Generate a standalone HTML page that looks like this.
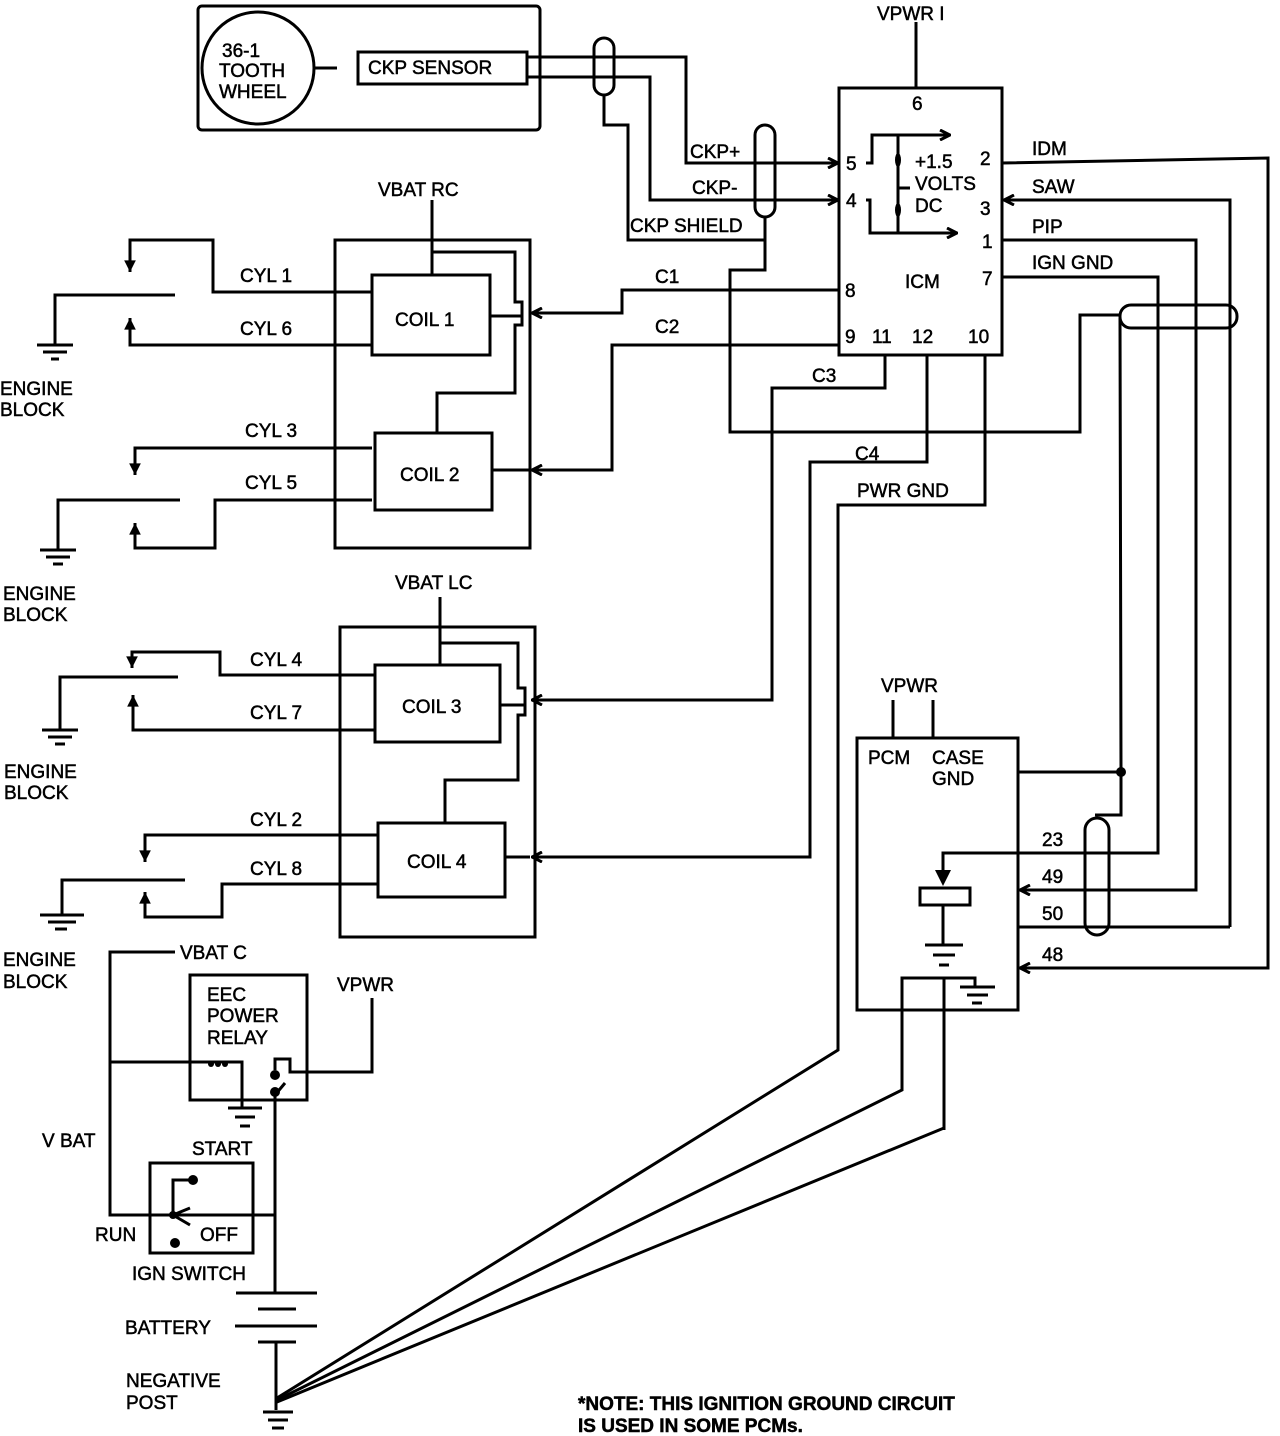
<!DOCTYPE html>
<html><head><meta charset="utf-8"><style>
html,body{margin:0;padding:0;background:#fff;}
svg{display:block;}
text{font-family:"Liberation Sans",sans-serif;font-size:19px;fill:#000;stroke:#000;stroke-width:0.5px;}
</style></head><body>
<svg width="1280" height="1436" viewBox="0 0 1280 1436" xmlns="http://www.w3.org/2000/svg">
<defs>
<marker id="ar" viewBox="0 0 12 12" refX="11" refY="6" markerWidth="12" markerHeight="12" markerUnits="userSpaceOnUse" orient="auto">
<path d="M1,1 L11,6 L1,11" fill="none" stroke="#000" stroke-width="3"/>
</marker>
<marker id="at" viewBox="0 0 12 12" refX="11" refY="6" markerWidth="14" markerHeight="14" markerUnits="userSpaceOnUse" orient="auto">
<path d="M1,1 L11,6 L1,11 Z" fill="#000"/>
</marker>
</defs>
<g fill="none" stroke="#000" stroke-width="3" stroke-linejoin="miter">
<rect x="198" y="6" width="342" height="124" rx="4"/>
<circle cx="258" cy="68" r="56"/>
<line x1="314" y1="68" x2="337" y2="68"/>
<rect x="358" y="52" width="169" height="32"/>
<polyline points="527,57 686,57 686,163 838,163" marker-end="url(#ar)"/>
<polyline points="527,77 650,77 650,200 838,200" marker-end="url(#ar)"/>
<rect x="594" y="38" width="20" height="57" rx="10"/>
<polyline points="604,95 604,125 628,125 628,240 765,240"/>
<rect x="755" y="125" width="20" height="92" rx="10"/>
<polyline points="765,217 765,270 730,270 730,432 1080,432 1080,315 1120,315"/>
<rect x="1120" y="305" width="117" height="23" rx="11"/>
<rect x="839" y="88" width="163" height="267"/>
<line x1="916" y1="22" x2="916" y2="88"/>
<polyline points="866,163 872,163 872,135 950,135" marker-end="url(#ar)"/>
<polyline points="866,200 870,200 870,233 957,233" marker-end="url(#ar)"/>
<line x1="898" y1="135" x2="898" y2="233"/>
<line x1="898" y1="188" x2="910" y2="188"/>
<polyline points="1002,163 1268,158 1268,968 1020,968" marker-end="url(#ar)"/>
<polyline points="1230,927 1230,200 1004,200" marker-end="url(#ar)"/>
<polyline points="1002,240 1196,240 1196,890 1020,890" marker-end="url(#ar)"/>
<polyline points="1002,277 1158,277 1158,853 943,853 943,870"/>
<line x1="1018" y1="927" x2="1230" y2="927"/>
<polyline points="1120,318 1121,772 1121,815 1095,815"/>
<line x1="1018" y1="772" x2="1121" y2="772"/>
<rect x="1085" y="818" width="24" height="117" rx="12"/>
<polyline points="838,290 622,290 622,313 532,313" marker-end="url(#ar)"/>
<polyline points="838,345 612,345 612,470 532,470" marker-end="url(#ar)"/>
<polyline points="885,355 885,388 772,388 772,700 532,700" marker-end="url(#ar)"/>
<polyline points="927,355 927,462 810,462 810,857 532,857" marker-end="url(#ar)"/>
<polyline points="985,355 985,505 838,505 838,1050 277,1398"/>
<rect x="857" y="738" width="161" height="272"/>
<line x1="893" y1="700" x2="893" y2="738"/>
<line x1="933" y1="700" x2="933" y2="738"/>
<rect x="920" y="888" width="50" height="17"/>
<line x1="943" y1="905" x2="943" y2="945"/>
<line x1="925" y1="945" x2="963" y2="945"/>
<line x1="933" y1="955" x2="955" y2="955"/>
<line x1="939" y1="965" x2="949" y2="965"/>
<polyline points="902,1030 902,978 975,978 975,987"/>
<line x1="960" y1="987" x2="995" y2="987"/>
<line x1="967" y1="995" x2="988" y2="995"/>
<line x1="972" y1="1003" x2="982" y2="1003"/>
<line x1="944" y1="978" x2="944" y2="1130"/>
<polyline points="902,1010 902,1090 277,1400"/>
<polyline points="944,1128 277,1402"/>
<rect x="335" y="240" width="195" height="308"/>
<line x1="432" y1="200" x2="432" y2="275"/>
<polyline points="432,252 515,252 515,302 522,302 522,325 515,325 515,393 437,393 437,433"/>
<rect x="372" y="275" width="118" height="80"/>
<rect x="375" y="433" width="117" height="77"/>
<line x1="490" y1="316" x2="522" y2="316"/>
<line x1="492" y1="470" x2="530" y2="470"/>
<polyline points="372,292 213,292 213,240 130,240 130,272" marker-end="url(#at)"/>
<polyline points="372,345 130,345 130,318" marker-end="url(#at)"/>
<polyline points="175,295 55,295 55,345"/>
<line x1="37" y1="345" x2="73" y2="345"/><line x1="43" y1="352" x2="67" y2="352"/><line x1="51" y1="359" x2="59" y2="359"/>
<polyline points="372,448 135,448 135,475" marker-end="url(#at)"/>
<polyline points="372,500 215,500 215,548 135,548 135,523" marker-end="url(#at)"/>
<polyline points="180,500 58,500 58,550"/>
<line x1="40" y1="550" x2="76" y2="550"/><line x1="46" y1="557" x2="70" y2="557"/><line x1="53" y1="564" x2="63" y2="564"/>
<rect x="340" y="627" width="195" height="310"/>
<line x1="440" y1="597" x2="440" y2="665"/>
<polyline points="440,643 518,643 518,688 525,688 525,715 518,715 518,780 445,780 445,823"/>
<rect x="375" y="665" width="125" height="77"/>
<rect x="378" y="823" width="127" height="74"/>
<line x1="500" y1="705" x2="525" y2="705"/>
<line x1="505" y1="857" x2="530" y2="857"/>
<polyline points="375,675 220,675 220,652 132,652 132,668" marker-end="url(#at)"/>
<polyline points="375,730 133,730 133,695" marker-end="url(#at)"/>
<polyline points="178,677 60,677 60,730"/>
<line x1="42" y1="730" x2="78" y2="730"/><line x1="48" y1="737" x2="72" y2="737"/><line x1="55" y1="744" x2="65" y2="744"/>
<polyline points="378,835 145,835 145,862" marker-end="url(#at)"/>
<polyline points="378,884 222,884 222,917 145,917 145,892" marker-end="url(#at)"/>
<polyline points="185,880 62,880 62,915"/>
<line x1="40" y1="915" x2="84" y2="915"/><line x1="48" y1="922" x2="76" y2="922"/><line x1="55" y1="929" x2="67" y2="929"/>
<polyline points="175,952 110,952 110,1215 275,1215"/>
<rect x="190" y="975" width="117" height="125"/>
<polyline points="110,1062 242,1062 242,1108"/>
<line x1="228" y1="1108" x2="262" y2="1108"/><line x1="235" y1="1117" x2="255" y2="1117"/><line x1="240" y1="1126" x2="250" y2="1126"/>
<polyline points="275,1070 275,1059 290,1059 290,1072 372,1072 372,998"/>
<line x1="275" y1="1095" x2="285" y2="1083"/>
<line x1="275" y1="1095" x2="275" y2="1292"/>
<rect x="150" y="1163" width="103" height="90"/>
<polyline points="193,1180 173,1180 173,1215 190,1225"/>
<line x1="173" y1="1215" x2="190" y2="1208"/>
<line x1="236" y1="1293" x2="317" y2="1293"/>
<line x1="258" y1="1309" x2="296" y2="1309"/>
<line x1="235" y1="1326" x2="317" y2="1326"/>
<line x1="258" y1="1342" x2="296" y2="1342"/>
<line x1="276" y1="1342" x2="276" y2="1410"/>
<line x1="263" y1="1412" x2="293" y2="1412"/><line x1="268" y1="1420" x2="288" y2="1420"/><line x1="272" y1="1428" x2="284" y2="1428"/>
</g>
<g fill="#000">
<path d="M935,870 L951,870 L943,886 Z"/>
<circle cx="1121" cy="772" r="5"/>
<circle cx="275" cy="1075" r="5"/><circle cx="275" cy="1092" r="5"/>
<circle cx="193" cy="1180" r="5"/><circle cx="175" cy="1243" r="5"/><circle cx="173" cy="1215" r="4"/>
<circle cx="211" cy="1064" r="3"/><circle cx="218" cy="1064" r="3"/><circle cx="225" cy="1064" r="3"/>
<ellipse cx="898" cy="160" rx="3" ry="7"/><ellipse cx="898" cy="210" rx="3" ry="7"/>
</g>
<g>
<text x="222" y="57" font-size="16">36-1</text>
<text x="219" y="77" font-size="19">TOOTH</text>
<text x="219" y="98" font-size="19">WHEEL</text>
<text x="368" y="74">CKP SENSOR</text>
<text x="877" y="20">VPWR I</text>
<text x="912" y="110">6</text>
<text x="690" y="158">CKP+</text>
<text x="692" y="194">CKP-</text>
<text x="630" y="232">CKP SHIELD</text>
<text x="846" y="170">5</text>
<text x="846" y="207">4</text>
<text x="915" y="168">+1.5</text>
<text x="915" y="190">VOLTS</text>
<text x="915" y="212">DC</text>
<text x="980" y="165">2</text>
<text x="980" y="215">3</text>
<text x="982" y="248">1</text>
<text x="982" y="285">7</text>
<text x="905" y="288">ICM</text>
<text x="845" y="297">8</text>
<text x="845" y="343">9</text>
<text x="872" y="343">11</text>
<text x="912" y="343">12</text>
<text x="968" y="343">10</text>
<text x="1032" y="155">IDM</text>
<text x="1032" y="193">SAW</text>
<text x="1032" y="233">PIP</text>
<text x="1032" y="269">IGN GND</text>
<text x="655" y="283">C1</text>
<text x="655" y="333">C2</text>
<text x="812" y="382">C3</text>
<text x="855" y="460">C4</text>
<text x="857" y="497">PWR GND</text>
<text x="378" y="196">VBAT RC</text>
<text x="395" y="326">COIL 1</text>
<text x="400" y="481">COIL 2</text>
<text x="240" y="282">CYL 1</text>
<text x="240" y="335">CYL 6</text>
<text x="245" y="437">CYL 3</text>
<text x="245" y="489">CYL 5</text>
<text x="0" y="395">ENGINE</text><text x="0" y="416">BLOCK</text>
<text x="3" y="600">ENGINE</text><text x="3" y="621">BLOCK</text>
<text x="395" y="589">VBAT LC</text>
<text x="402" y="713">COIL 3</text>
<text x="407" y="868">COIL 4</text>
<text x="250" y="666">CYL 4</text>
<text x="250" y="719">CYL 7</text>
<text x="250" y="826">CYL 2</text>
<text x="250" y="875">CYL 8</text>
<text x="4" y="778">ENGINE</text><text x="4" y="799">BLOCK</text>
<text x="3" y="966">ENGINE</text><text x="3" y="988">BLOCK</text>
<text x="881" y="692">VPWR</text>
<text x="868" y="764">PCM</text>
<text x="932" y="764">CASE</text>
<text x="932" y="785">GND</text>
<text x="1042" y="846">23</text>
<text x="1042" y="883">49</text>
<text x="1042" y="920">50</text>
<text x="1042" y="961">48</text>
<text x="180" y="959">VBAT C</text>
<text x="207" y="1001">EEC</text>
<text x="207" y="1022">POWER</text>
<text x="207" y="1044">RELAY</text>
<text x="337" y="991">VPWR</text>
<text x="42" y="1147">V BAT</text>
<text x="192" y="1155">START</text>
<text x="95" y="1241">RUN</text>
<text x="200" y="1241">OFF</text>
<text x="132" y="1280">IGN SWITCH</text>
<text x="125" y="1334">BATTERY</text>
<text x="126" y="1387">NEGATIVE</text>
<text x="126" y="1409">POST</text>
<text x="578" y="1410" font-weight="bold" font-size="18">*NOTE: THIS IGNITION GROUND CIRCUIT</text>
<text x="578" y="1432" font-weight="bold" font-size="18">IS USED IN SOME PCMs.</text>
</g>
</svg>
</body></html>
